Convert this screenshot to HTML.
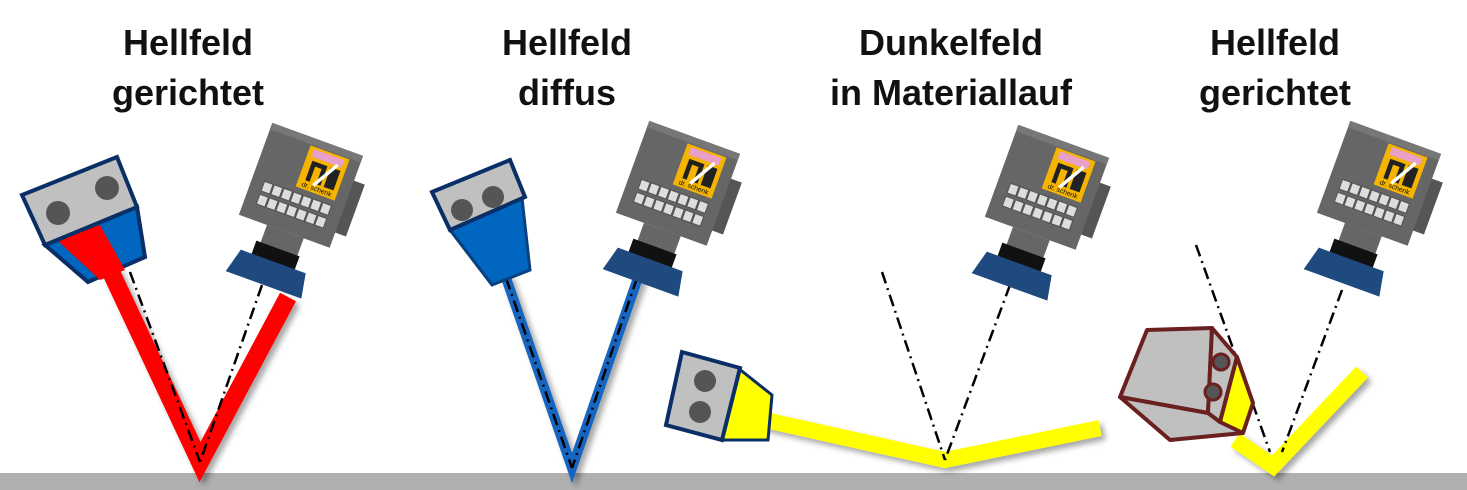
<!DOCTYPE html>
<html><head><meta charset="utf-8"><style>
html,body{margin:0;padding:0;background:#fff;}
svg{display:block}
text{font-family:"Liberation Sans",sans-serif;font-size:36px;font-weight:bold;fill:#111;text-anchor:middle}
</style></head><body>
<svg width="1467" height="490" viewBox="0 0 1467 490" xmlns="http://www.w3.org/2000/svg">
<defs>
<filter id="sh" x="-20%" y="-20%" width="140%" height="140%"><feDropShadow dx="4" dy="4" stdDeviation="3" flood-color="#000" flood-opacity="0.35"/></filter>
<g id="cam">
  <rect x="38" y="-22" width="14" height="48" fill="#555"/>
  <rect x="-42" y="-45" width="84" height="85" fill="#666"/>
  <rect x="-42" y="-45" width="84" height="6" fill="#777"/>
  <rect x="-4" y="-38" width="36" height="38" fill="#f5b400"/>
  <rect x="0" y="-36" width="28" height="7" fill="#e8a0c8"/>
  <path d="M2 -8 V-26 H16 V-8 H12 V-22 H6 V-8 Z M19 -8 V-26 H28 V-8 Z" fill="#222"/>
  <line x1="10" y1="-6" x2="24" y2="-30" stroke="#fff" stroke-width="3"/>
  <text x="14" y="-2" style="font-size:6px;font-weight:normal">dr. schenk</text>
  <g fill="#ddd" stroke="#555" stroke-width="1">
   <rect x="-31" y="5" width="8" height="9"/><rect x="-22" y="5" width="8" height="9"/><rect x="-13" y="5" width="8" height="9"/><rect x="-4" y="5" width="8" height="9"/><rect x="5" y="5" width="8" height="9"/><rect x="14" y="5" width="8" height="9"/><rect x="23" y="5" width="8" height="9"/>
   <rect x="-31" y="17" width="8" height="9"/><rect x="-22" y="17" width="8" height="9"/><rect x="-13" y="17" width="8" height="9"/><rect x="-4" y="17" width="8" height="9"/><rect x="5" y="17" width="8" height="9"/><rect x="14" y="17" width="8" height="9"/><rect x="23" y="17" width="8" height="9"/>
  </g>
  <rect x="-16" y="40" width="34" height="18" fill="#666"/>
  <rect x="-20" y="56" width="40" height="13" fill="#111"/>
  <path d="M-30 68 H30 L34 90 H-36 Z" fill="#1e4a80"/>
</g>
</defs>

<rect x="0" y="473" width="1467" height="17" fill="#b0b0b0"/>

<text x="188" y="55">Hellfeld</text><text x="188" y="105">gerichtet</text>
<text x="567" y="55">Hellfeld</text><text x="567" y="105">diffus</text>
<text x="951" y="55">Dunkelfeld</text><text x="951" y="105">in Materiallauf</text>
<text x="1275" y="55">Hellfeld</text><text x="1275" y="105">gerichtet</text>

<!-- beams -->
<g filter="url(#sh)">
<polyline points="110,270 200,462 288,297" fill="none" stroke="#ff0000" stroke-width="18" stroke-linejoin="miter"/>
<polyline points="505,275 572,468 640,272" fill="none" stroke="#1565c0" stroke-width="10"/>
<polyline points="765,420 945,460 1100,428" fill="none" stroke="#ffff00" stroke-width="16"/>
<polyline points="1235,440 1273,466 1362,372" fill="none" stroke="#ffff00" stroke-width="16"/>
</g>

<g fill="none" stroke="#000" stroke-width="2.5" stroke-dasharray="12,5,2,5">
<line x1="130" y1="272" x2="200" y2="462"/><line x1="262" y1="285" x2="200" y2="462"/>
<line x1="506" y1="278" x2="572" y2="468"/><line x1="637" y1="278" x2="572" y2="468"/>
<line x1="882" y1="272" x2="945" y2="460"/><line x1="1010" y1="285" x2="945" y2="460"/>
<line x1="1196" y1="245" x2="1270" y2="452"/><line x1="1342" y1="290" x2="1282" y2="452"/>
</g>

<!-- light 1 -->
<polygon points="45,245 137,207 145,257 88,282" fill="#0066c0" stroke="#0a2f66" stroke-width="4"/>
<polygon points="57,240 100,225 125,270 100,280" fill="#ff0000"/>
<polygon points="22,195 117,157 137,207 45,245" fill="#c0c0c0" stroke="#0a2f66" stroke-width="4"/>
<circle cx="58" cy="213" r="12" fill="#555"/><circle cx="107" cy="188" r="12" fill="#555"/>

<!-- light 2 -->
<polygon points="450,230 522,198 530,270 492,285" fill="#0066c0" stroke="#0a3f80" stroke-width="3"/>
<polygon points="432,192 510,160 525,197 450,230" fill="#c0c0c0" stroke="#0a2f66" stroke-width="4"/>
<circle cx="462" cy="210" r="11" fill="#555"/><circle cx="493" cy="197" r="11" fill="#555"/>

<!-- light 3 -->
<polygon points="738,368 772,395 768,440 722,440" fill="#ffff00" stroke="#0a2f66" stroke-width="3"/>
<polygon points="682,352 740,368 722,440 666,425" fill="#c0c0c0" stroke="#0a2f66" stroke-width="4"/>
<circle cx="705" cy="381" r="11" fill="#555"/><circle cx="700" cy="412" r="11" fill="#555"/>

<!-- light 4 cube -->
<g stroke="#6b2020" stroke-width="4" stroke-linejoin="round">
<polygon points="1147,330 1212,328 1208,413 1120,397" fill="#c0c0c0"/>
<polygon points="1120,397 1208,413 1243,433 1170,440" fill="#c0c0c0"/>
<polygon points="1212,328 1237,357 1220,422 1208,413" fill="#c0c0c0"/>
<polygon points="1237,357 1253,403 1243,433 1220,422" fill="#ffff00"/>
</g>
<circle cx="1221" cy="362" r="8" fill="#555" stroke="#6b2020" stroke-width="3"/>
<circle cx="1213" cy="392" r="8" fill="#555" stroke="#6b2020" stroke-width="3"/>

<!-- cameras -->
<use href="#cam" transform="translate(300,188) rotate(20) scale(1.15)"/>
<use href="#cam" transform="translate(677,186) rotate(20) scale(1.15)"/>
<use href="#cam" transform="translate(1046,190) rotate(20) scale(1.15)"/>
<use href="#cam" transform="translate(1378,186) rotate(20) scale(1.15)"/>
</svg>
</body></html>
